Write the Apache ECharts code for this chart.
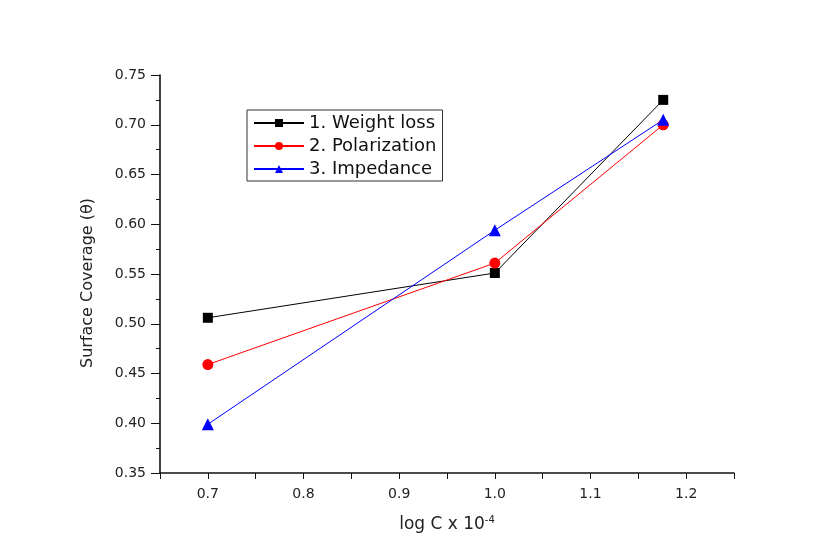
<!DOCTYPE html>
<html>
<head>
<meta charset="utf-8">
<script src="https://cdn.jsdelivr.net/npm/echarts@6/dist/echarts.min.js"></script>
<style>
    html, body { margin: 0; padding: 0; background: #fff; }
    #chart { width: 840px; height: 545px; }
</style>
</head>
<body>
<div id="chart"></div>
<script>
// concentrations (log C) and surface coverage
const logC = [0.7, 1.0, 1.176]
const weightLoss = [0.506, 0.551, 0.725]
const polarization = [0.459, 0.561, 0.700]
const impedance = [0.399, 0.594, 0.705]
const seriesNames = ['1. Weight loss', '2. Polarization', '3. Impedance']

const pairs = function (ys) {
    return logC.map((x, i) => [x, ys[i]])
}

const myChart = echarts.init(document.getElementById('chart'))

const FONT = 'DejaVu Sans, Liberation Sans, sans-serif'

const labelFont = {
    color: '#222',
    fontSize: 14,
    fontFamily: FONT
}

const line = function (name, ys, color, symbol, size) {
    return {
        name: name,
        type: 'line',
        data: pairs(ys),
        symbol: symbol,
        symbolSize: size,
        lineStyle: { color: color, width: 1 },
        itemStyle: { color: color },
        animation: false
    }
}

myChart.setOption({
    backgroundColor: '#fff',
    grid: { left: 160, right: 106, top: 75, bottom: 72 },
    legend: {
        orient: 'vertical',
        left: 247,
        top: 110,
        data: seriesNames,
        itemWidth: 50,
        itemHeight: 10,
        itemGap: 5,
        padding: [4, 6, 3, 6],
        borderColor: '#333',
        borderWidth: 1,
        textStyle: {
            color: '#111',
            fontSize: 18,
            fontFamily: FONT
        }
    },
    xAxis: {
        type: 'value',
        min: 0.65,
        max: 1.25,
        interval: 0.05,
        name: 'log C x 10{sup|-4}',
        nameLocation: 'middle',
        nameGap: 42,
        nameTextStyle: {
            color: '#222',
            fontSize: 17,
            fontFamily: FONT,
            rich: {
                sup: {
                    fontSize: 10,
                    color: '#222',
                    verticalAlign: 'top',
                    padding: [0, 0, 9, 0],
                    fontFamily: FONT
                }
            }
        },
        axisLine: { lineStyle: { color: '#111', width: 1.6 } },
        axisTick: { show: true, inside: false, length: 6, lineStyle: { color: '#111' } },
        axisLabel: Object.assign({
            interval: 0,
            margin: 14,
            formatter: function (v) {
                const k = Math.round(v * 100)
                return k % 10 === 0 ? (k / 100).toFixed(1) : ''
            }
        }, labelFont),
        splitLine: { show: false }
    },
    yAxis: {
        type: 'value',
        min: 0.35,
        max: 0.75,
        interval: 0.05,
        name: 'Surface Coverage (\u03b8)',
        nameLocation: 'middle',
        nameGap: 64,
        nameTextStyle: {
            color: '#222',
            fontSize: 16,
            fontFamily: FONT,
            padding: [0, 18, 0, 0]
        },
        axisLine: { show: true, lineStyle: { color: '#111', width: 1.6 } },
        axisTick: { show: true, inside: false, length: 9, lineStyle: { color: '#111' } },
        minorTick: { show: true, splitNumber: 2, length: 4, lineStyle: { color: '#111' } },
        axisLabel: Object.assign({
            margin: 14,
            formatter: function (v) { return v.toFixed(2) }
        }, labelFont),
        splitLine: { show: false }
    },
    series: [
        line(seriesNames[0], weightLoss, '#000000', 'rect', 10),
        line(seriesNames[1], polarization, '#ff0000', 'circle', 11),
        line(seriesNames[2], impedance, '#0000ff', 'triangle', 12)
    ]
})
</script>
</body>
</html>
